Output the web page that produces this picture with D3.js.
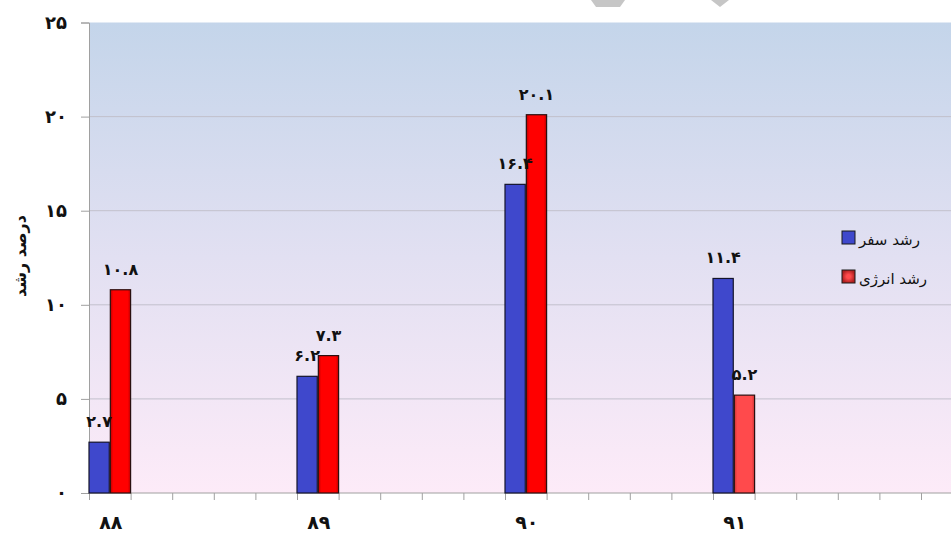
<!DOCTYPE html>
<html lang="fa">
<head>
<meta charset="utf-8">
<script src="https://cdn.jsdelivr.net/npm/d3@7/dist/d3.min.js"></script>
<style>
  html, body { margin: 0; padding: 0; background: #ffffff; }
  svg { display: block; }
  text { font-family: "DejaVu Sans", "Noto Sans", sans-serif; }
</style>
</head>
<body>
<svg id="chart" width="951" height="535"></svg>
<script>
// Years (Persian calendar) and growth percentages
const years = ["۸۸", "۸۹", "۹۰", "۹۱"];
const travelGrowth = [2.7, 6.2, 16.4, 11.4];   // رشد سفر
const energyGrowth = [10.8, 7.3, 20.1, 5.2];   // رشد انرژی
const seriesNames = ["رشد سفر", "رشد انرژی"];
const yTicks = [0, 5, 10, 15, 20, 25];
const yTitle = "درصد رشد";

// Persian digits for all printed numbers
const faDigits = "۰۱۲۳۴۵۶۷۸۹";
const toFa = v => String(v).replace(/\d/g, d => faDigits[+d]);

const W = 951, H = 535;
const plot = { left: 89, top: 22.5, bottom: 493, right: 960 };

const svg = d3.select("#chart");
const defs = svg.append("defs");

// Plot background: blue at the top fading to pink at the bottom
const bg = defs.append("linearGradient").attr("id", "bgGrad")
  .attr("x1", 0).attr("y1", 0).attr("x2", 0).attr("y2", 1);
bg.append("stop").attr("offset", "0%").attr("stop-color", "#c4d5ea");
bg.append("stop").attr("offset", "50%").attr("stop-color", "#e2e0f2");
bg.append("stop").attr("offset", "100%").attr("stop-color", "#fdebf8");

// Red bar shading, darker at the sides
function sideShade(id, edge, mid) {
  const g = defs.append("linearGradient").attr("id", id)
    .attr("x1", 0).attr("y1", 0).attr("x2", 1).attr("y2", 0);
  g.append("stop").attr("offset", "0%").attr("stop-color", edge);
  g.append("stop").attr("offset", "14%").attr("stop-color", mid);
  g.append("stop").attr("offset", "86%").attr("stop-color", mid);
  g.append("stop").attr("offset", "100%").attr("stop-color", edge);
}
sideShade("redGrad", "#b80000", "#ff0000");
sideShade("redSoftGrad", "#c83434", "#ff4a4c");

const redLegend = defs.append("radialGradient").attr("id", "redLegend");
redLegend.append("stop").attr("offset", "30%").attr("stop-color", "#ff4a4c");
redLegend.append("stop").attr("offset", "100%").attr("stop-color", "#b02020");

// Decorative marks at the top edge
svg.append("polygon").attr("points", "591,0 625,0 620,7 596,7").attr("fill", "#c6c6c6");
svg.append("polygon").attr("points", "711,0 729,0 720,7").attr("fill", "#c6c6c6");

// Scales
const y = d3.scaleLinear().domain([0, 25]).range([plot.bottom, plot.top]);
const slotsPerYear = 5;
const x = d3.scaleLinear().domain([0, 20]).range([plot.left, 921]);
const slotW = x(1) - x(0);
const sub = d3.scaleBand().domain([0, 1]).range([0, slotW]).paddingInner(0.05);

// Background
svg.append("rect")
  .attr("x", plot.left).attr("y", plot.top)
  .attr("width", plot.right - plot.left).attr("height", plot.bottom - plot.top)
  .attr("fill", "url(#bgGrad)");

// Horizontal gridlines
svg.append("g").selectAll("line")
  .data(yTicks.filter(t => t > 0 && t < 25))
  .join("line")
  .attr("x1", plot.left).attr("x2", plot.right)
  .attr("y1", d => y(d)).attr("y2", d => y(d))
  .attr("stroke", "#c2c0cc").attr("stroke-width", 1);

// Y axis
const yAxis = svg.append("g")
  .attr("transform", `translate(${plot.left},0)`)
  .call(d3.axisLeft(y).tickValues(yTicks).tickSize(8).tickPadding(14).tickFormat(toFa));
yAxis.select(".domain").attr("stroke", "#a0a0a0");
yAxis.selectAll(".tick line").attr("stroke", "#a0a0a0");
yAxis.selectAll(".tick text")
  .attr("font-size", 18).attr("font-weight", "bold").attr("fill", "#111")
  .attr("font-family", "DejaVu Sans, sans-serif");

// X axis with a tick at every slot boundary
const xAxis = svg.append("g")
  .attr("transform", `translate(0,${plot.bottom})`)
  .call(d3.axisBottom(x).tickValues(d3.range(0, 22)).tickSize(7).tickFormat(""));
xAxis.select(".domain").attr("stroke", "#a0a0a0").attr("d", `M${plot.left},0H${W + 10}`);
xAxis.selectAll(".tick line").attr("stroke", "#a0a0a0");

// Year labels under each pair of bars
svg.append("g").selectAll("text")
  .data(years)
  .join("text")
  .attr("x", (d, i) => x(i * slotsPerYear) + slotW / 2 + 1)
  .attr("y", 529)
  .attr("text-anchor", "middle")
  .attr("font-size", 19).attr("font-weight", "bold").attr("fill", "#111")
  .text(d => d);

// Bars
const rows = years.map((yr, i) => ({ i, travel: travelGrowth[i], energy: energyGrowth[i] }));
const energyFill = i => (i === years.length - 1 ? "url(#redSoftGrad)" : "url(#redGrad)");

const bars = svg.append("g");
bars.selectAll("rect.travel")
  .data(rows).join("rect").attr("class", "travel")
  .attr("x", d => x(d.i * slotsPerYear) + sub(0))
  .attr("width", sub.bandwidth())
  .attr("y", d => y(d.travel))
  .attr("height", d => y(0) - y(d.travel))
  .attr("fill", "#3f48cc").attr("stroke", "#14142a").attr("stroke-width", 1.2);

bars.selectAll("rect.energy")
  .data(rows).join("rect").attr("class", "energy")
  .attr("x", d => x(d.i * slotsPerYear) + sub(1))
  .attr("width", sub.bandwidth())
  .attr("y", d => y(d.energy))
  .attr("height", d => y(0) - y(d.energy))
  .attr("fill", d => energyFill(d.i)).attr("stroke", "#2a1010").attr("stroke-width", 1.2);

// Value labels above the bars
const labels = svg.append("g")
  .attr("font-size", 16).attr("font-weight", "bold").attr("fill", "#111")
  .attr("text-anchor", "middle");
labels.selectAll("text.travel")
  .data(rows).join("text").attr("class", "travel")
  .attr("x", d => x(d.i * slotsPerYear) + sub(0) + sub.bandwidth() / 2)
  .attr("y", d => y(d.travel) - 15)
  .text(d => toFa(d.travel));
labels.selectAll("text.energy")
  .data(rows).join("text").attr("class", "energy")
  .attr("x", d => x(d.i * slotsPerYear) + sub(1) + sub.bandwidth() / 2)
  .attr("y", d => y(d.energy) - 15)
  .text(d => toFa(d.energy));

// Y axis title
svg.append("text")
  .attr("transform", `translate(26,256) rotate(-90)`)
  .attr("text-anchor", "middle")
  .attr("font-size", 16).attr("font-weight", "bold").attr("fill", "#111")
  .text(yTitle);

// Legend
const legendFills = ["#3f48cc", "url(#redLegend)"];
const legend = svg.append("g").attr("transform", "translate(842,231)");
const item = legend.selectAll("g").data(seriesNames).join("g")
  .attr("transform", (d, i) => `translate(0,${i * 39})`);
item.append("rect")
  .attr("width", 13).attr("height", 13)
  .attr("fill", (d, i) => legendFills[i])
  .attr("stroke", "#1a1a1a").attr("stroke-width", 1);
item.append("text")
  .attr("x", 17).attr("y", 14)
  .attr("text-anchor", "start")
  .attr("font-size", 15).attr("fill", "#111")
  .text(d => d);
</script>
</body>
</html>
